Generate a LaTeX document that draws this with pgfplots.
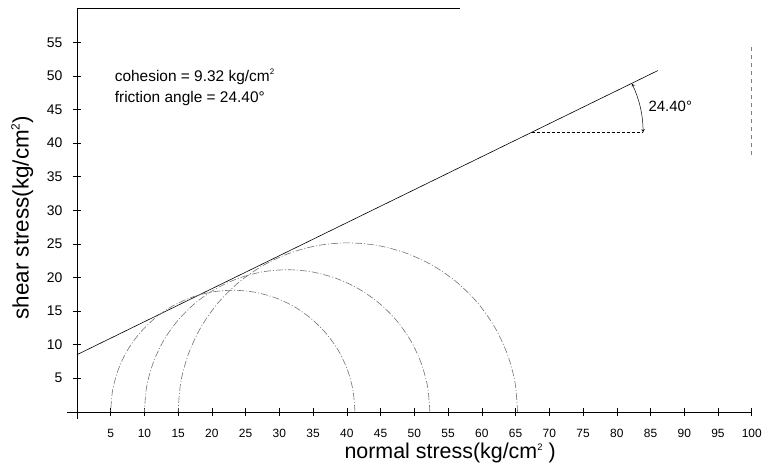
\documentclass[border=0pt]{standalone}
\usepackage{pgfplots}
\pgfplotsset{compat=1.18}
\usepackage{fontspec}
\setmainfont{Liberation Sans}
\definecolor{circ}{gray}{0.45}
\newcommand{\sqr}[2]{\raisebox{#2}{\fontsize{#1}{#1}\selectfont 2}}
\begin{document}
\begin{tikzpicture}
\begin{axis}[
  scale only axis, width=685.1bp, height=409.9bp,
  xmin=-1.5, xmax=100, ymin=-1, ymax=60,
  axis lines=middle, axis line style={-, line width=0.6bp, black},
  clip=false,
  xtick={5,10,...,100}, ytick={5,10,...,55},
  tick align=center, major tick length=8bp,
  tick style={line width=0.5bp, black},
  /pgf/number format/assume math mode=true,
  xticklabel style={font=\fontsize{12}{14}\selectfont, anchor=north, inner sep=0.5bp, yshift=-13bp},
  yticklabel style={font=\fontsize{14}{16}\selectfont, anchor=east, xshift=-7bp},
]
% failure envelope
\addplot[black, line width=0.6bp] coordinates {(0,8.5) (86.1,50.8)};
% Mohr circles
\addplot[circ, line width=0.6bp, smooth, dash pattern=on 7bp off 2bp on 1bp off 2bp] coordinates {
(41.20,0) (40.92,3.14) (40.11,6.19) (38.78,9.05) (36.96,11.63) (34.73,13.86) (32.15,15.68) (29.29,17.01) (26.24,17.82) (23.10,18.10) (19.96,17.82) (16.91,17.01) (14.05,15.68) (11.47,13.86) (9.24,11.63) (7.42,9.05) (6.09,6.19) (5.28,3.14) (5.00,0)};
\addplot[circ, line width=0.6bp, smooth, dash pattern=on 7bp off 2bp on 1bp off 2bp] coordinates {
(52.30,0) (51.98,3.67) (51.02,7.23) (49.47,10.58) (47.35,13.60) (44.75,16.20) (41.73,18.32) (38.38,19.87) (34.82,20.83) (31.15,21.15) (27.48,20.83) (23.92,19.87) (20.58,18.32) (17.55,16.20) (14.95,13.60) (12.83,10.58) (11.28,7.23) (10.32,3.67) (10.00,0)};
\addplot[circ, line width=0.6bp, smooth, dash pattern=on 7bp off 2bp on 1bp off 2bp] coordinates {
(65.30,0) (64.92,4.37) (63.78,8.60) (61.93,12.58) (59.42,16.17) (56.32,19.27) (52.73,21.78) (48.75,23.63) (44.52,24.77) (40.15,25.15) (35.78,24.77) (31.55,23.63) (27.58,21.78) (23.98,19.27) (20.88,16.17) (18.37,12.58) (16.52,8.60) (15.38,4.37) (15.00,0)};
% angle construction
\addplot[black, line width=0.5bp, dash pattern=on 3bp off 2bp] coordinates {(67.4,41.6) (83.9,41.6)};
\draw[black, line width=0.5bp, <->, >=stealth] (axis cs:83.9,41.6) arc[start angle=0, end angle=26, radius=111.4bp];
\node[anchor=west, font=\fontsize{15}{17}\selectfont] at (axis cs:84.2,45.5) {24.40°};
% top frame fragment and right artifact
\addplot[black, line width=0.6bp] coordinates {(0,60) (56.7,60)};
\addplot[gray, line width=0.5bp, dash pattern=on 4bp off 4bp] coordinates {(100,54.3) (100,38.2)};
% annotations
\node[anchor=west, font=\fontsize{15.5}{18}\selectfont] at (axis cs:5.1,49.9) {cohesion = 9.32 kg/cm\sqr{8}{6.5bp}};
\node[anchor=west, font=\fontsize{15.5}{18}\selectfont] at (axis cs:5.1,46.7) {friction angle = 24.40°};
% axis labels
\node[anchor=base, inner sep=0pt, font=\fontsize{21.5}{24}\selectfont] at (axis cs:55.3,-6.9) {normal stress(kg/cm\sqr{9.5}{8bp} )};
\node[rotate=90, font=\fontsize{22.5}{26}\selectfont] at (axis cs:-8.1,28.9) {shear stress(kg/cm\sqr{12}{9bp})};
% bounding box matching the reference frame
\path (axis cs:-11.4,61.3) rectangle (axis cs:103.3,-8.33);
\end{axis}
\end{tikzpicture}
\end{document}
